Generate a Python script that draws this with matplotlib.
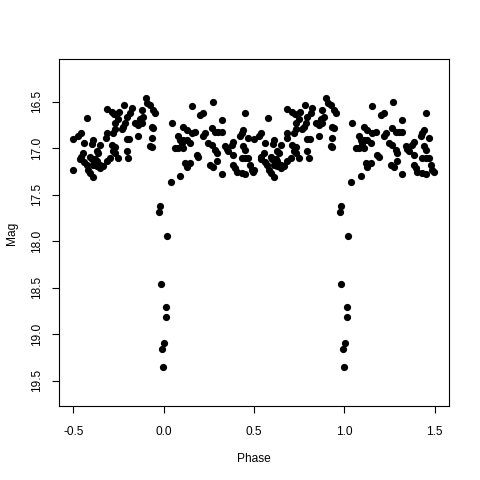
import matplotlib
matplotlib.use("Agg")
import matplotlib.pyplot as plt
import numpy as np

plt.rcParams['font.family'] = ['Liberation Sans', 'DejaVu Sans']

# Light curve: phase in [-0.5, 0.5], magnitude
phase = [
    -0.220, -0.315, -0.288, -0.275, -0.246, -0.251, -0.423, -0.205, -0.214, -0.224,
    -0.232, -0.270, -0.270, -0.279, -0.315, -0.319, -0.205, -0.459, -0.473, -0.500,
    -0.441, -0.390, -0.395, -0.353, -0.288, -0.270, -0.371, -0.362, -0.279, -0.270,
    -0.205, -0.445, -0.459, -0.463, -0.408, -0.398, -0.380, -0.371, -0.297, -0.251,
    -0.441, -0.426, -0.390, -0.371, -0.353, -0.315, -0.334, -0.196, -0.417, -0.408,
    -0.500, -0.390, -0.353,
    -0.100, -0.089, -0.076, -0.048, -0.058, -0.122, -0.177, -0.186, -0.113, -0.131,
    -0.159, -0.141, -0.122, -0.066, -0.058, -0.192, -0.141, -0.066, -0.076, -0.066,
    0.044, 0.108, 0.127, 0.155, 0.155, 0.081, 0.090, 0.100, 0.108, 0.127,
    0.063, 0.081, 0.108, 0.118, 0.127, 0.090, 0.039,
    0.271, 0.201, 0.219, 0.450, 0.321, 0.173, 0.266, 0.284, 0.302, 0.321,
    0.229, 0.219, 0.440, 0.432, 0.423, 0.468, 0.385, 0.376, 0.247, 0.266,
    0.146, 0.339, 0.349, 0.358, 0.440, 0.450, 0.284, 0.293, 0.183, 0.192,
    0.385, 0.432, 0.450, 0.468, 0.293, 0.256, 0.274, 0.385, 0.395, 0.404,
    0.478, 0.487, 0.496, 0.321, 0.432, 0.450, 0.146,
    -0.020, -0.024, 0.020, -0.017, 0.013, 0.013, 0.002, -0.008, -0.002,
]
mag = [
    16.53, 16.58, 16.615, 16.63, 16.615, 16.69, 16.67, 16.66, 16.73, 16.77,
    16.79, 16.73, 16.79, 16.84, 16.84, 16.89, 16.90, 16.84, 16.87, 16.90,
    16.94, 16.91, 16.95, 16.96, 16.96, 16.99, 17.03, 17.05, 17.03, 17.05,
    17.03, 17.05, 17.09, 17.12, 17.09, 17.12, 17.12, 17.14, 17.105, 17.105,
    17.15, 17.18, 17.18, 17.19, 17.18, 17.14, 17.19, 17.105, 17.23, 17.27,
    17.23, 17.31, 17.21,
    16.46, 16.51, 16.53, 16.62, 16.59, 16.59, 16.57, 16.62, 16.66, 16.69,
    16.73, 16.75, 16.73, 16.77, 16.78, 16.90, 16.87, 16.89, 16.98, 16.99,
    16.73, 16.77, 16.80, 16.84, 16.55, 16.87, 16.91, 16.94, 16.91, 16.91,
    17.00, 17.00, 17.00, 17.16, 17.20, 17.30, 17.36,
    16.50, 16.64, 16.62, 16.62, 16.70, 16.82, 16.78, 16.82, 16.82, 16.82,
    16.84, 16.87, 16.80, 16.84, 16.87, 16.89, 16.93, 16.96, 16.94, 16.96,
    16.94, 16.98, 17.01, 17.03, 16.98, 17.02, 17.02, 17.05, 17.07, 17.09,
    17.07, 17.105, 17.105, 17.105, 17.14, 17.18, 17.20, 17.18, 17.21, 17.25,
    17.18, 17.23, 17.26, 17.28, 17.27, 17.28, 17.16,
    17.62, 17.68, 17.94, 18.46, 18.71, 18.81, 19.09, 19.16, 19.35,
]

xticks = [-0.5, 0.0, 0.5, 1.0, 1.5]
yticks = [16.5, 17.0, 17.5, 18.0, 18.5, 19.0, 19.5]

ph = np.array(phase)
mg = np.array(mag)

fig = plt.figure(figsize=(4.8, 4.8), dpi=100)
ax = fig.add_axes([59.3/480, 1 - 406/480, (449.3 - 59.3)/480, (406 - 59)/480])

ax.plot(np.concatenate([ph, ph + 1]), np.concatenate([mg, mg]), 'o',
        color='black', markersize=5.2, markeredgewidth=0, linestyle='none')

ax.set_xlim(-0.577, 1.581)
ax.set_ylim(19.77, 16.04)
ax.set_xticks(xticks)
ax.set_xticklabels([f"{t:.1f}" for t in xticks])
ax.set_yticks(yticks)
ax.set_yticklabels([f"{t:.1f}" for t in yticks], rotation=90, va='center')

ax.tick_params(axis='both', direction='out', length=5, width=0.8, labelsize=8.6, color='black')
ax.tick_params(axis='x', pad=9.5)
ax.tick_params(axis='y', pad=7)
for s in ax.spines.values():
    s.set_linewidth(0.8)
    s.set_color('black')

fig.text(254.3/480, 1 - 459/480, 'Phase', ha='center', va='center', fontsize=8.6)
fig.text(12/480, 1 - 233/480, 'Mag', ha='center', va='center', rotation=90, fontsize=8.6)

fig.savefig('out.png', dpi=100, facecolor='white')
